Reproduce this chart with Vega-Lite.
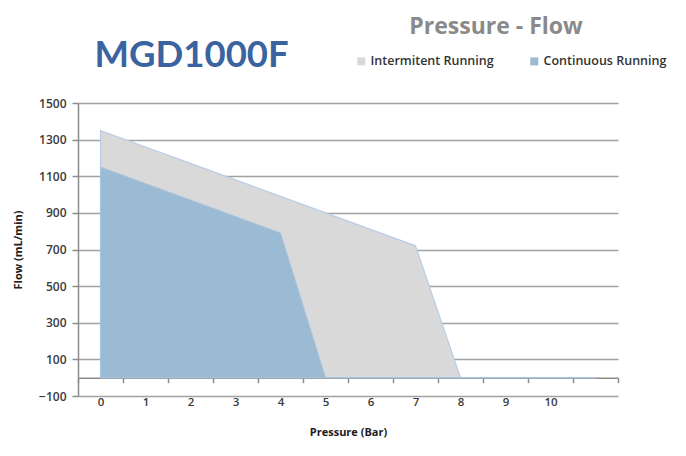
{
  "$schema": "https://vega.github.io/schema/vega-lite/v6.json",
  "autosize": "none",
  "width": 540,
  "height": 293,
  "padding": {"left": 78, "top": 103, "right": 68, "bottom": 60},
  "background": "white",
  "title": {
    "text": "MGD1000F",
    "anchor": "start",
    "dx": 82,
    "dy": 62,
    "font": "Lato",
    "fontSize": 36.5,
    "fontWeight": "bold",
    "color": "#3a63a0"
  },
  "config": {
    "view": {"stroke": null},
    "font": "Open Sans",
    "axis": {
      "labelFont": "Open Sans",
      "labelFontSize": 11.5,
      "labelFontWeight": 600,
      "labelColor": "#3a3a3a",
      "titleFont": "Open Sans",
      "titleFontSize": 11,
      "titleFontWeight": "bold",
      "titleColor": "#202020",
      "domainColor": "#8c8c8c",
      "domainWidth": 1.5,
      "tickColor": "#8c8c8c",
      "tickWidth": 1.5,
      "tickSize": 5,
      "gridColor": "#555555",
      "gridOpacity": 0.55,
      "gridWidth": 1.5,
      "zindex": 1
    }
  },
  "data": {
    "values": [
      {"series": "Intermitent Running", "pressure": 0, "flow": 1350},
      {"series": "Intermitent Running", "pressure": 1, "flow": 1260},
      {"series": "Intermitent Running", "pressure": 2, "flow": 1170},
      {"series": "Intermitent Running", "pressure": 3, "flow": 1080},
      {"series": "Intermitent Running", "pressure": 4, "flow": 990},
      {"series": "Intermitent Running", "pressure": 5, "flow": 900},
      {"series": "Intermitent Running", "pressure": 6, "flow": 810},
      {"series": "Intermitent Running", "pressure": 7, "flow": 720},
      {"series": "Intermitent Running", "pressure": 8, "flow": 0},
      {"series": "Intermitent Running", "pressure": 9, "flow": 0},
      {"series": "Intermitent Running", "pressure": 10, "flow": 0},
      {"series": "Intermitent Running", "pressure": 11, "flow": 0},
      {"series": "Continuous Running", "pressure": 0, "flow": 1150},
      {"series": "Continuous Running", "pressure": 1, "flow": 1060},
      {"series": "Continuous Running", "pressure": 2, "flow": 970},
      {"series": "Continuous Running", "pressure": 3, "flow": 880},
      {"series": "Continuous Running", "pressure": 4, "flow": 790},
      {"series": "Continuous Running", "pressure": 5, "flow": 0},
      {"series": "Continuous Running", "pressure": 6, "flow": 0},
      {"series": "Continuous Running", "pressure": 7, "flow": 0},
      {"series": "Continuous Running", "pressure": 8, "flow": 0},
      {"series": "Continuous Running", "pressure": 9, "flow": 0},
      {"series": "Continuous Running", "pressure": 10, "flow": 0},
      {"series": "Continuous Running", "pressure": 11, "flow": 0}
    ]
  },
  "encoding": {
    "x": {
      "field": "pressure",
      "type": "ordinal",
      "bandPosition": 0.5,
      "scale": {"type": "band", "domain": [0,1,2,3,4,5,6,7,8,9,10,11], "paddingInner": 0, "paddingOuter": 0},
      "axis": {
        "title": "Pressure (Bar)",
        "labelAngle": 0,
        "offset": -18.3,
        "tickBand": "extent",
        "labelPadding": 14,
        "titlePadding": 18,
        "labelExpr": "datum.value == 11 ? '' : datum.label"
      }
    },
    "y": {
      "field": "flow",
      "type": "quantitative",
      "stack": null,
      "scale": {"domain": [-100, 1500], "nice": false, "zero": false},
      "axis": {
        "title": "Flow (mL/min)",
        "format": "d",
        "labelFontSize": 12,
        "values": [-100, 100, 300, 500, 700, 900, 1100, 1300, 1500],
        "tickSize": 6,
        "labelPadding": 6,
        "titlePadding": 15
      }
    },
    "color": {
      "field": "series",
      "type": "nominal",
      "scale": {"domain": ["Intermitent Running", "Continuous Running"], "range": ["#d9d9d9", "#9bbbd5"]},
      "legend": {
        "title": "Pressure - Flow",
        "orient": "none",
        "legendX": 247,
        "legendY": -87,
        "direction": "horizontal",
        "columns": 2,
        "columnPadding": 4,
        "titleFont": "Open Sans",
        "titleFontSize": 23,
        "titleFontWeight": "bold",
        "titleColor": "#8a8a8a",
        "titleAnchor": "middle",
        "titlePadding": 16,
        "symbolType": "square",
        "symbolSize": 64,
        "symbolStrokeWidth": 0,
        "symbolOffset": 30,
        "labelFont": "Open Sans",
        "labelFontSize": 12.5,
        "labelFontWeight": 600,
        "labelColor": "#333333",
        "labelOffset": 3
      }
    }
  },
  "layer": [
    {
      "transform": [{"filter": "datum.series == 'Intermitent Running'"}],
      "mark": {"type": "area", "stroke": "#b9cde5", "strokeWidth": 1.2, "opacity": 1}
    },
    {
      "transform": [{"filter": "datum.series == 'Continuous Running'"}],
      "mark": {"type": "area", "stroke": "#a9c4dc", "strokeWidth": 1, "opacity": 1}
    }
  ]
}
